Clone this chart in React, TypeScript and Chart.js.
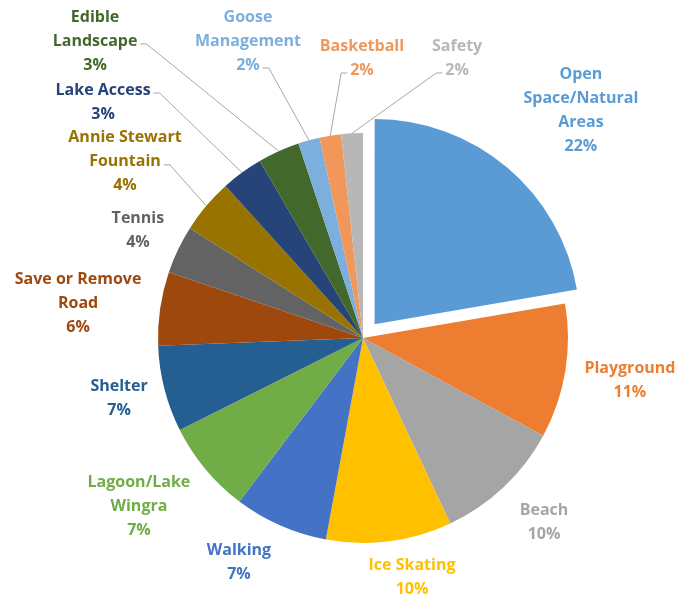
import React, { useEffect, useRef } from "react";
import { Chart, registerables } from "chart.js";

Chart.register(...registerables);

// ---- data ----
const categories: string[] = [
  "Open\nSpace/Natural\nAreas",
  "Playground",
  "Beach",
  "Ice Skating",
  "Walking",
  "Lagoon/Lake\nWingra",
  "Shelter",
  "Save or Remove\nRoad",
  "Tennis",
  "Annie Stewart\nFountain",
  "Lake Access",
  "Edible\nLandscape",
  "Goose\nManagement",
  "Basketball",
  "Safety",
];
const shares: number[] = [22.3, 10.6, 10.1, 9.9, 7.4, 7.3, 6.8, 5.8, 3.8, 4.3, 3.3, 3.3, 1.7, 1.7, 1.7];

// ---- styles / layout ----
const colors: string[] = [
  "#5B9BD5", "#ED7D31", "#A5A5A5", "#FFC000", "#4472C4", "#70AD47", "#255E91",
  "#9E480E", "#636363", "#997300", "#264478", "#43682B", "#7CAFDD", "#F1975A", "#B7B7B7",
];
const explode: number[] = [72, 0, 0, 0, 0, 0, 0, 0, 0, 0, 0, 0, 0, 0, 0];
// label block centres relative to the pie centre, in units of the pie radius
const labelOffsets: [number, number][] = [
  [1.063, -1.112], [1.302, 0.205], [0.883, 0.902], [0.239, 1.166], [-0.605, 1.093],
  [-1.093, 0.824], [-1.19, 0.293], [-1.39, -0.171], [-1.098, -0.527], [-1.161, -0.859],
  [-1.268, -1.151], [-1.307, -1.449], [-0.561, -1.449], [-0.005, -1.366], [0.459, -1.366],
];
// which text line a leader line attaches to (-1 = no leader line)
const leaderLine: number[] = [-1, -1, -1, -1, -1, -1, -1, -1, -1, 1, 0, 1, 2, 1, 1];
const PIE_RADIUS = 205;
const LINE_HEIGHT = 24;
const FONT = "bold 16px 'Open Sans'";

const labelPlugin = {
  id: "outsideLabels",
  afterDatasetsDraw(chart: any) {
    const ctx: CanvasRenderingContext2D = chart.ctx;
    const meta = chart.getDatasetMeta(0);
    const total = shares.reduce((a, b) => a + b, 0);
    ctx.save();
    ctx.font = FONT;
    ctx.textAlign = "center";
    ctx.textBaseline = "middle";
    meta.data.forEach((arc: any, i: number) => {
      const { x, y, startAngle, endAngle, outerRadius } = arc.getProps(
        ["x", "y", "startAngle", "endAngle", "outerRadius"],
        true
      );
      const r = outerRadius;
      const lines = [...categories[i].split("\n"), Math.round((shares[i] / total) * 100) + "%"];
      const n = lines.length;
      const cx = x + labelOffsets[i][0] * r;
      const cy = y + labelOffsets[i][1] * r;
      ctx.fillStyle = colors[i];
      lines.forEach((t, k) => {
        ctx.fillText(t, cx, cy + (k - (n - 1) / 2) * LINE_HEIGHT);
      });
      const li = leaderLine[i];
      if (li >= 0) {
        const mid = (startAngle + endAngle) / 2;
        const ex = x + Math.cos(mid) * r;
        const ey = y + Math.sin(mid) * r;
        const ly = cy + (li - (n - 1) / 2) * LINE_HEIGHT + 3;
        const w = ctx.measureText(lines[li]).width;
        const onLeft = cx < ex;
        const sx = onLeft ? cx + w / 2 + 3 : cx - w / 2 - 3;
        const hx = onLeft ? sx + 6 : sx - 6;
        ctx.strokeStyle = "#A6A6A6";
        ctx.lineWidth = 1;
        ctx.beginPath();
        ctx.moveTo(sx, ly);
        ctx.lineTo(hx, ly);
        ctx.lineTo(ex, ey);
        ctx.stroke();
      }
    });
    ctx.restore();
  },
};

export default function App() {
  const ref = useRef<HTMLCanvasElement | null>(null);
  useEffect(() => {
    document.body.style.margin = "0";
    if (!ref.current) return;
    const chart = new Chart(ref.current, {
      type: "pie",
      data: {
        labels: categories.map((c) => c.replace(/\n/g, " ")),
        datasets: [
          {
            data: shares,
            backgroundColor: colors,
            borderWidth: 0,
            offset: explode,
          },
        ],
      },
      options: {
        animation: false,
        responsive: false,
        radius: PIE_RADIUS,
        layout: { padding: { left: 100, right: 66, top: 100, bottom: 24 } },
        plugins: { legend: { display: false }, tooltip: { enabled: false } },
      } as any,
      plugins: [labelPlugin],
    });
    return () => chart.destroy();
  }, []);
  return (
    <div style={{ width: 692, height: 600, background: "#fff" }}>
      <canvas ref={ref} width={692} height={600} />
    </div>
  );
}
